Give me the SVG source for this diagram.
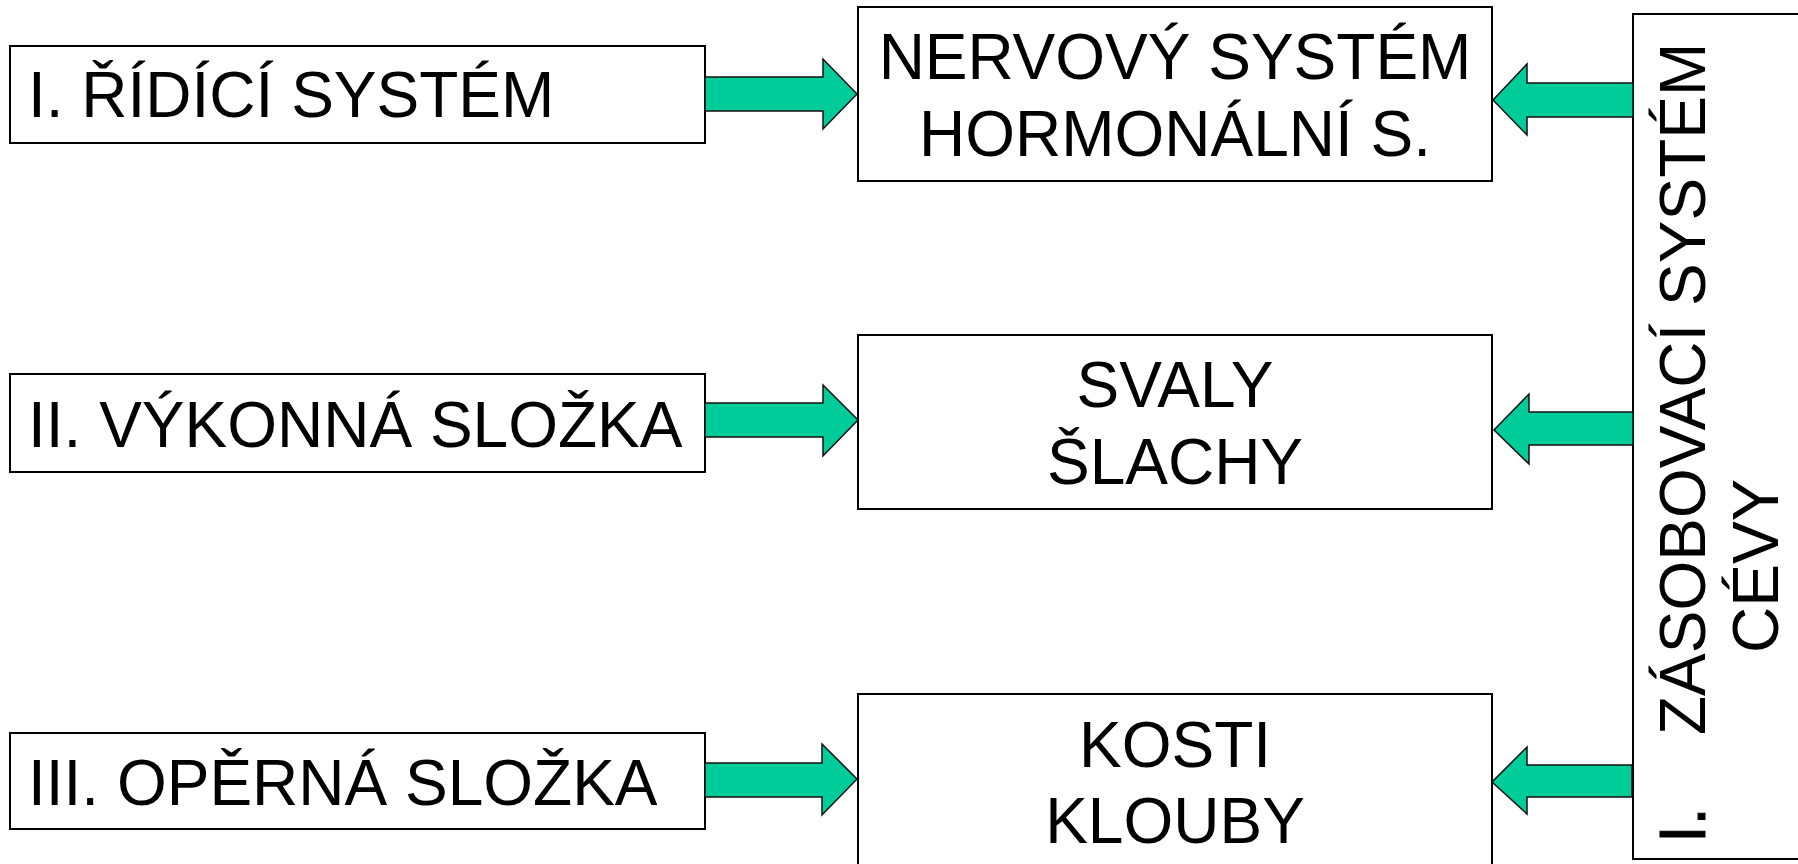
<svg xmlns="http://www.w3.org/2000/svg" width="1798" height="864" viewBox="0 0 1798 864">
<style>
.box{fill:#fff;stroke:#000;stroke-width:2}
.arr{fill:#00CC99;stroke:#111;stroke-width:1.5;stroke-linejoin:miter}
.t{font-family:"Liberation Sans",Arial,sans-serif;font-size:64px;fill:#000}
.c{text-anchor:middle}
.h{stroke:#000;stroke-width:1}
</style>
<rect width="1798" height="864" fill="#fff"/>
<g id="left1"><rect class="box" x="10" y="46" width="695" height="97"/><text class="t" x="28" y="117">I. ŘÍDÍCÍ SYSTÉM</text></g>
<g id="left2"><rect class="box" x="10" y="374" width="695" height="98"/><text class="t" x="28" y="447">II. VÝKONNÁ SLOŽKA</text></g>
<g id="left3"><rect class="box" x="10" y="733" width="695" height="96"/><text class="t" x="28" y="805">III. OPĚRNÁ SLOŽKA</text></g>
<g id="mid1"><rect class="box" x="858" y="7" width="634" height="174"/><text class="t c" x="1175" y="79">NERVOVÝ SYSTÉM</text><text class="t c" x="1175" y="156">HORMONÁLNÍ S.</text></g>
<g id="mid2"><rect class="box" x="858" y="335" width="634" height="174"/><text class="t c" x="1175" y="407">SVALY</text><text class="t c" x="1175" y="484">ŠLACHY</text></g>
<g id="mid3"><rect class="box" x="858" y="694" width="634" height="180"/><text class="t c" x="1175" y="767">KOSTI</text><text class="t c" x="1175" y="843">KLOUBY</text></g>
<g id="right"><rect class="box" x="1633" y="14" width="200" height="845"/>
<g transform="translate(1705,0) rotate(-90)"><text class="t h" x="-843" y="0">I.</text><text class="t" x="-735" y="0">ZÁSOBOVACÍ SYSTÉM</text><text class="t" x="-653" y="73">CÉVY</text></g></g>
<g id="connectors">
<polygon class="arr" points="705,77 823,77 823,59 857,94 823,129 823,111 705,111"/>
<polygon class="arr" points="705,403 823,403 823,385 858,420 823,456 823,437 705,437"/>
<polygon class="arr" points="705,763 822,763 822,744 857,779 822,815 822,797 705,797"/>
<polygon class="arr" points="1633,83 1527,83 1527,64 1493,100 1527,135 1527,117 1633,117"/>
<polygon class="arr" points="1633,412 1529,412 1529,394 1494,430 1529,464 1529,445 1633,445"/>
<polygon class="arr" points="1632,765 1527,765 1527,747 1492,782 1527,814 1527,797 1632,797"/>
</g>
</svg>
